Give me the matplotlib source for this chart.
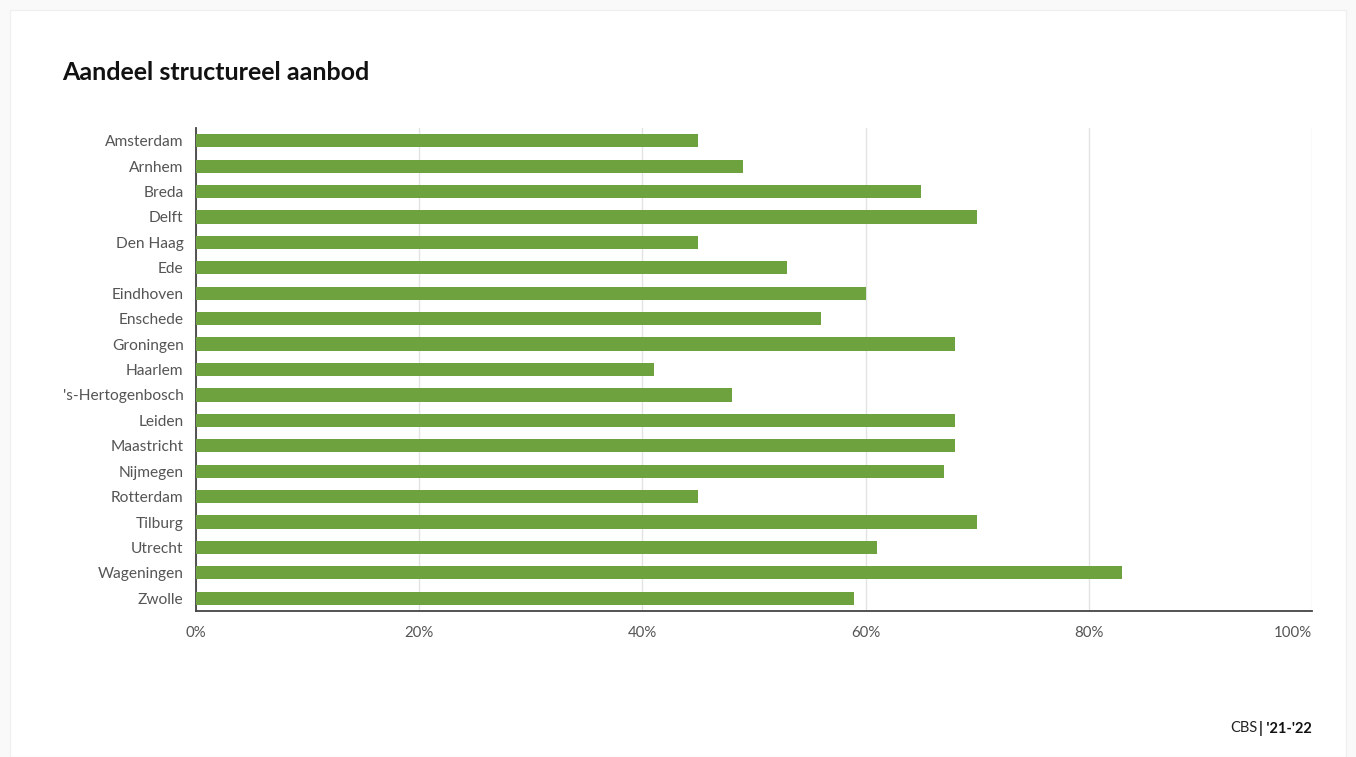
import matplotlib
matplotlib.use("Agg")
import matplotlib.pyplot as plt
from matplotlib.patches import Rectangle
from matplotlib.ticker import FuncFormatter

cities = ["Amsterdam", "Arnhem", "Breda", "Delft", "Den Haag", "Ede", "Eindhoven",
          "Enschede", "Groningen", "Haarlem", "'s-Hertogenbosch", "Leiden", "Maastricht",
          "Nijmegen", "Rotterdam", "Tilburg", "Utrecht", "Wageningen", "Zwolle"]
values = [45, 49, 65, 70, 45, 53, 60, 56, 68, 41, 48, 68, 68, 67, 45, 70, 61, 83, 59]
xticks = [0, 20, 40, 60, 80, 100]

plt.rcParams['font.family'] = ['Lato', 'DejaVu Sans']

W, H = 1356, 757
fig = plt.figure(figsize=(W / 100, H / 100), dpi=100)
fig.patch.set_facecolor("#f9f9f9")
fig.patches.append(Rectangle((10 / W, 0), (W - 20) / W, (H - 10) / H,
                             transform=fig.transFigure, facecolor="white",
                             edgecolor="#f0f0f0", linewidth=1, zorder=-5))

ax = fig.add_axes([196 / W, 1 - 611 / H, (1312 - 196) / W, (611 - 128) / H])
ax.set_zorder(2)
ax.set_facecolor("white")
y = list(range(len(cities)))
ax.barh(y, values, height=0.52, color="#6ea23e", zorder=3)
ax.set_ylim(len(cities) - 0.5, -0.5)
ax.set_xlim(0, 100)
ax.set_yticks(y)
ax.set_yticklabels(cities)
ax.set_xticks(xticks)
ax.xaxis.set_major_formatter(FuncFormatter(lambda v, p: f"{int(v)}%"))
ax.grid(axis="x", color="#e3e3e3", linewidth=1, zorder=0)
for s in ["top", "right"]:
    ax.spines[s].set_visible(False)
for s in ["left", "bottom"]:
    ax.spines[s].set_color("#444444")
    ax.spines[s].set_linewidth(1.3)
ax.tick_params(axis="y", length=0, labelsize=11.2, labelcolor="#555555", pad=9)
ax.tick_params(axis="x", length=0, labelsize=10.8, labelcolor="#555555", pad=11)
xlabels = ax.get_xticklabels()
xlabels[-1].set_horizontalalignment("right")
xlabels[-1].set_x(100)

fig.text(62 / W, 1 - 72 / H, "Aandeel structureel aanbod", fontsize=18,
         fontweight="bold", color="#111111", va="center", ha="left")

t2 = fig.text(1312 / W, 1 - 728 / H, "| '21-'22", fontsize=10.5, fontweight="bold",
              color="#111111", va="center", ha="right")
fig.canvas.draw()
bb = t2.get_window_extent()
fig.text((bb.x0 - 2) / W, 1 - 728 / H, "CBS", fontsize=10.5, color="#222222",
         va="center", ha="right")

fig.savefig("out.png", dpi=100, facecolor=fig.get_facecolor())
